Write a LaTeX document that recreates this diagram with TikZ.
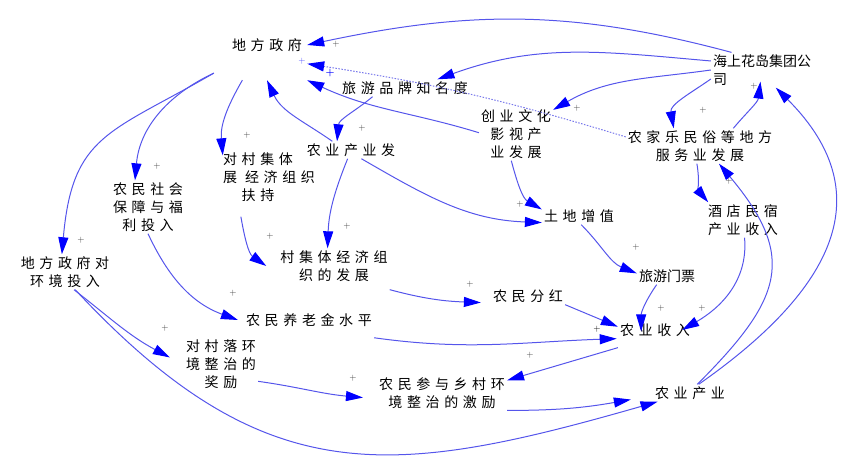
\documentclass[tikz,border=0pt]{standalone}
\usepackage{fontspec}
\usetikzlibrary{arrows.meta}
\newfontfamily\cjk[LetterSpace=33]{Noto Sans CJK SC}
\newfontfamily\cjkplain{Noto Sans CJK SC}
\definecolor{linkblue}{RGB}{85,85,235}
\definecolor{dotblue}{RGB}{120,120,235}
\definecolor{headblue}{RGB}{0,0,255}
\definecolor{signgray}{RGB}{60,60,60}
\tikzset{
  var/.style={font=\cjk\fontsize{14}{18}\selectfont, align=center, inner sep=2pt},
  varplain/.style={font=\cjkplain\fontsize{14}{18}\selectfont, align=left, inner sep=2pt},
  link/.style={draw=linkblue, line width=1pt, -{Triangle[length=17pt,width=10pt,color=headblue]}},
  dotlink/.style={link, draw=dotblue, dash pattern=on 1.5pt off 1.5pt},
  sign/.style={font=\fontsize{9}{9}\selectfont, text=signgray, inner sep=0pt},
}
\begin{document}
\begin{tikzpicture}[x=1pt,y=1pt]%,>=latex]
\useasboundingbox (0,0) rectangle (859,475);

\node[var, minimum width=80pt, minimum height=70pt] (gov) at (267,430) {地方政府};
\node[varplain] (hs) at (762,405) {海上花岛集团公\\司};
\node[var] (brand) at (405,387) {旅游品牌知名度};
\node[var] (cyfz) at (516,341) {创业文化\\影视产\\业发展};
\node[var] (njl) at (700,329) {农家乐民俗等地方\\服务业发展};
\node[var] (nycyf) at (351,325) {农业产业发};
\node[var, align=left] (dcjt) at (269,298) {对村集体\\展\hspace{8pt}经济组织\\\hspace*{18.6pt}扶持};
\node[var] (nmsh) at (148,268) {农民社会\\保障与福\\利投入};
\node[var] (tdzz) at (579,259) {土地增值};
\node[var] (jdms) at (743,255) {酒店民宿\\产业收入};
\node[var] (dfzfh) at (65,203) {地方政府对\\环境投入};
\node[var] (cjtjj) at (334,209) {村集体经济组\\织的发展};
\node[varplain] (lymp) at (667,199) {旅游门票};
\node[var] (nmfh) at (528,179) {农民分红};
\node[var] (nmylj) at (309,155) {农民养老金水平};
\node[var] (nysr) at (655,145) {农业收入};
\node[var] (dclh) at (221,111) {对村落环\\境整治的\\奖励};
\node[var] (nmcy) at (442,82) {农民参与乡村环\\境整治的激励};
\node[var] (nycy) at (690,82) {农业产业};

% links from the group company
\draw[link] (hs.150) to[out=165,in=12] (gov.east);
\draw[link] (hs.170) to[out=175,in=20] (brand.15);
\draw[link] (hs.west) to[out=188,in=30] (cyfz.33);
\draw[link] (hs.190) to[out=215,in=100] (njl.146);
\draw[link] (njl.28) to[out=50,in=-97] ([yshift=6pt]hs.-95);
\draw[link] (nycy.45) to[out=35,in=-45,looseness=1.3] (hs.-52);
\draw[link] (nycy.50) to[out=45,in=-50,looseness=1.4] (njl.-43);
\draw[link] (njl.-100) to[out=-80,in=130] (jdms.153);
\draw[dotlink] (njl.173) to[bend right=4] (gov.-25);

% links round the local government
\draw[link] (cyfz.178) to[out=163,in=-25] (gov.south east);
\draw[link] (brand.195) to[out=-140,in=85] (nycyf.148);
\draw[link] (nycyf.155) to[out=145,in=-65] (gov.south);
\draw[link] (gov.-125) to[out=-120,in=95] ([yshift=-5pt]dcjt.150);
\draw[link] ([xshift=-13pt]gov.-145) to[out=-155,in=85] (nmsh.116);
\draw[link] ([xshift=-13pt]gov.-145) to[out=-150,in=85,looseness=1.3] (dfzfh.100);

% middle part
\draw[link] (nycyf.-111) to[out=-112,in=88] (cjtjj.110);
\draw[link] (nycyf.-40) to[out=-30,in=178] (tdzz.190);
\draw[link] (cyfz.-100) to[out=-75,in=150] (tdzz.170);
\draw[link] ([xshift=20pt,yshift=-13pt]dcjt.south west) to[out=-80,in=145] ([xshift=-12pt]cjtjj.west);
\draw[link] (nmsh.south) to[out=-65,in=160] ([xshift=-6pt]nmylj.west);
\draw[link] (dfzfh.-63) to[out=-38,in=152] ([xshift=-14pt]dclh.170);
\draw[link] (dfzfh.-60) to[out=-47,in=196,looseness=1.2] (nycy.195);
\draw[link] (dclh.-25) to[out=-8,in=175] ([xshift=-14pt]nmcy.184);
\draw[link] (nmcy.-15) to[out=0,in=190] ([xshift=-22pt]nycy.190);
\draw[link] ([yshift=-9pt]nysr.south west) -- (nmcy.11);
\draw[link] ([yshift=-9pt]nmylj.south east) to[out=-8,in=182] ([xshift=-6pt]nysr.-165);
\draw[link] (nmfh.south east) -- (nysr.175);
\draw[link] ([yshift=-6pt]cjtjj.south east) to[out=-15,in=178] ([xshift=-10pt]nmfh.-170);
\draw[link] (tdzz.-76) to[out=-45,in=158] (lymp.175);
\draw[link] (lymp.-140) to[out=-125,in=90] ([yshift=-10pt]nysr.148);
\draw[link] (jdms.-85) to[out=-85,in=30] ([xshift=-10pt]nysr.east);

% polarity signs
\node[sign] (s1) at (336,431) {+};
\node[sign, text=headblue!70] (s2) at (302,414) {+};
\node[sign, text=headblue, font=\bfseries\fontsize{10}{10}\selectfont] (s3) at (330,402) {+};
\node[sign] (s4) at (362,347) {+};
\node[sign] (s5) at (247,340) {+};
\node[sign] (s6) at (157,309) {+};
\node[sign] (s7) at (81,235) {+};
\node[sign] (s8) at (347,249) {+};
\node[sign] (s9) at (270,239) {+};
\node[sign] (s10) at (233,182) {+};
\node[sign] (s11) at (165,147) {+};
\node[sign] (s12) at (353,97) {+};
\node[sign] (s13) at (470,191) {+};
\node[sign] (s14) at (520,271) {+};
\node[sign] (s15) at (577,367) {+};
\node[sign] (s16) at (703,365) {+};
\node[sign] (s17) at (754,389) {+};
\node[sign] (s18) at (729,294) {+};
\node[sign] (s19) at (636,228) {+};
\node[sign] (s20) at (661,167) {+};
\node[sign] (s21) at (702,167) {+};
\node[sign, text=black] (s22) at (597,146) {+};
\node[sign] (s23) at (530,120) {+};
\end{tikzpicture}
\end{document}
